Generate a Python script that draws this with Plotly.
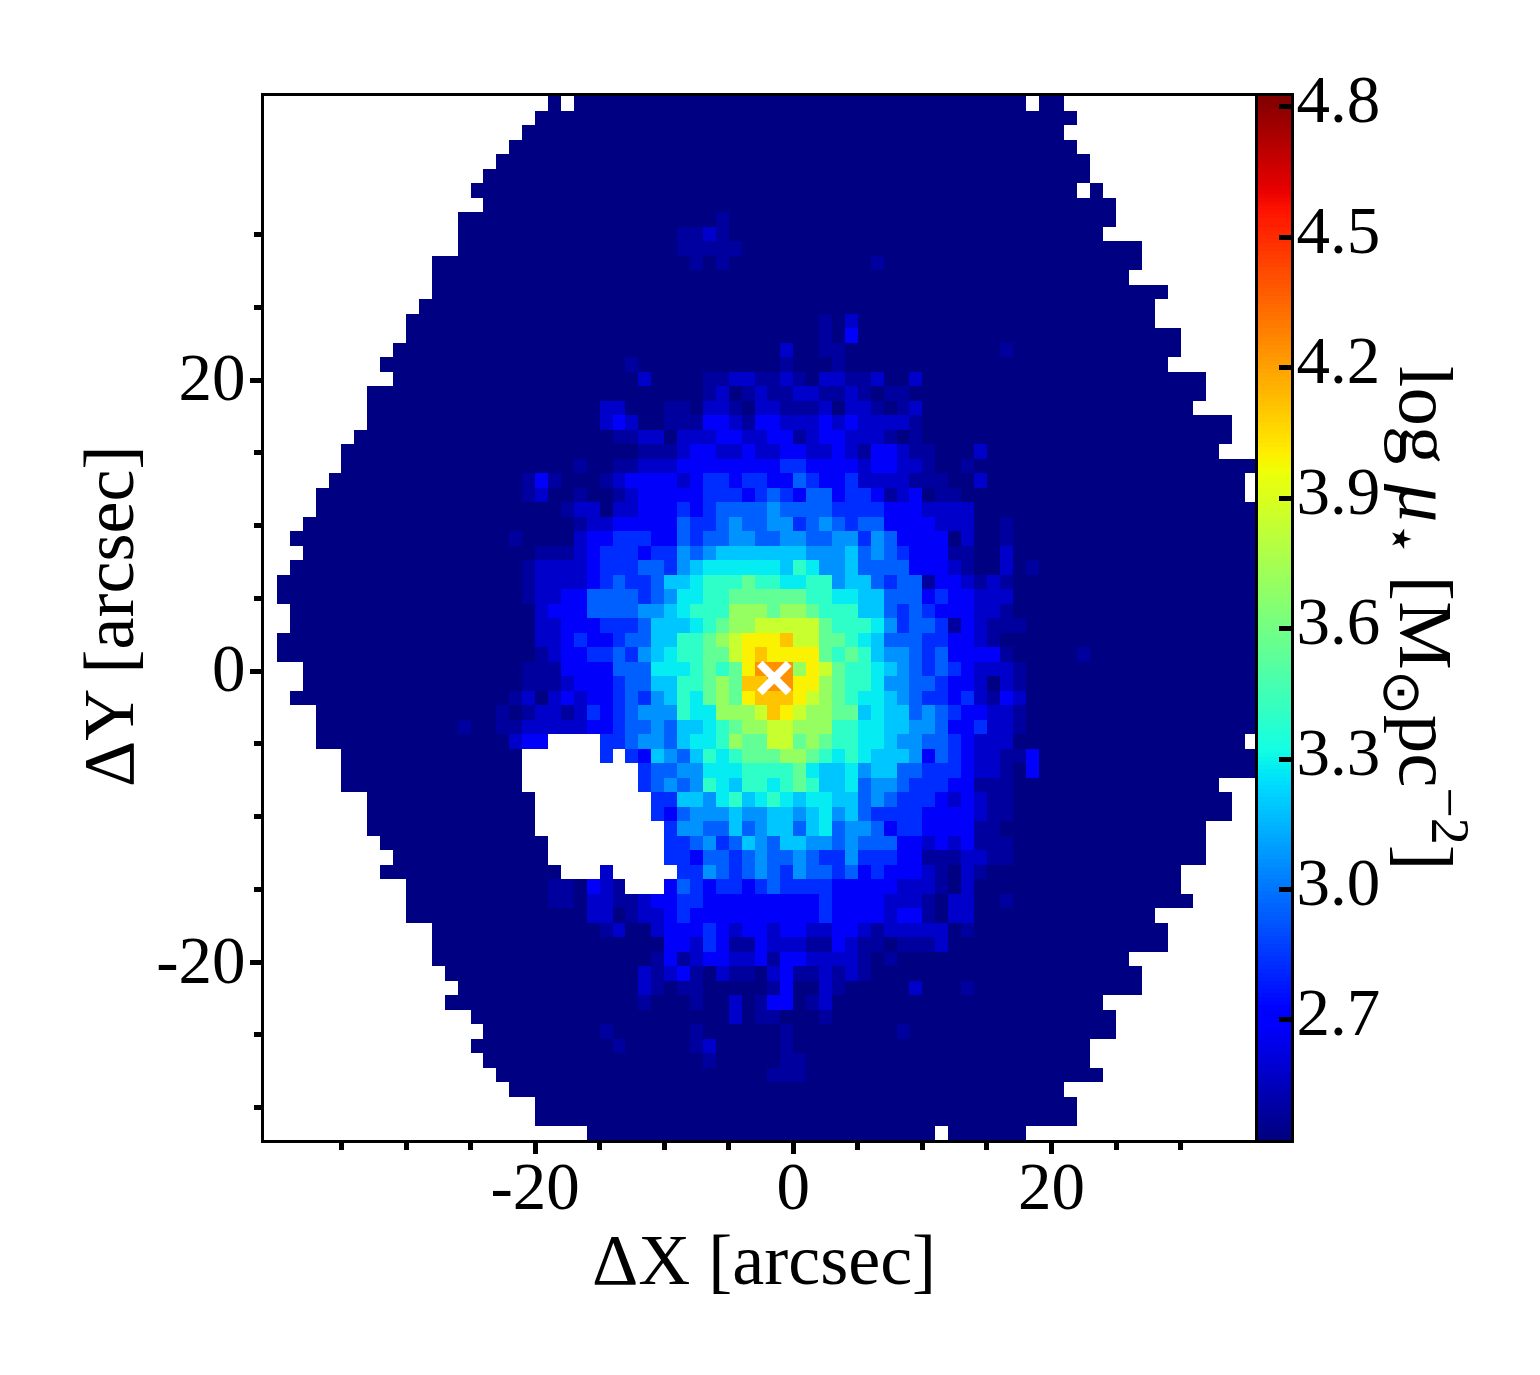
import plotly.graph_objects as go

# value read for each colour code of the picture
LEVELS = dict(zip("0123456789abcdef",
    [2.43, 2.49, 2.58, 2.68, 2.83, 2.95, 3.07, 3.19, 3.28, 3.40, 3.55, 3.70, 3.85, 3.995, 4.11, 4.24]))

# first column with data, and column after the last, for each of the 72 rows
ROW_START = [22,21,20,19,18,17,16,17,15,15,15,13,13,13,12,11,11,10,9,10,8,8,8,7,6,6,5,4,4,3,2,3,2,1,1,2,2,1,1,3,3,2,4,4,4,6,6,6,8,8,8,9,10,9,11,11,11,13,13,13,14,15,14,16,17,16,17,19,19,21,21,25]
ROW_END = [62,63,62,63,64,64,65,66,66,65,68,68,67,70,69,69,71,71,70,73,73,72,75,75,74,77,76,76,
           77,77,77,77,77,77,77,77,77,77,77,77,77,77,77,77,76,77,77,74,75,75,73,73,73,71,71,72,69,70,70,67,68,68,65,66,66,64,64,65,62,63,63,59]
GAP_CELLS = [(0,23),(0,59),(6,63),(26,76),(27,76),(44,76),(71,52)]
FAINT_CELLS = [(43,15),(38,63)]

# rows 8..67, columns 18..59 in groups of six; "." is no data
CORE_FIRST_ROW = 8
CORE_FIRST_COL = 18
CORE = [
"000000 000000 000001 000000 000000 000000 000000",
"000000 000000 001121 000000 000000 000000 000000",
"000000 000000 001111 100000 000000 000000 000000",
"000000 000000 000101 000000 000001 000000 000000",
"000000 000000 000000 000000 000000 000000 000000",
"000000 000000 000000 000000 000000 000000 000000",
"000000 000000 000000 000000 000000 000000 000000",
"000000 000000 000000 000000 010200 000000 000000",
"000000 000000 000000 000000 010300 000000 000000",
"000000 000000 000000 000020 011000 000000 000100",
"000000 000010 000000 000010 001000 000000 000000",
"000000 000002 000011 221121 022112 002000 000000",
"000000 000000 000012 012112 211210 110000 000000",
"000000 002200 011022 102211 120221 012000 000000",
"000000 002320 011133 213322 232322 221000 000000",
"000000 000112 202223 322331 233222 101000 000000",
"000000 000001 112332 232233 223213 321100 020000",
"000000 100112 223333 333344 333323 322100 100000",
"001310 001233 332344 344335 433422 221110 020000",
"001200 100123 333344 434543 553443 123011 000000",
"000001 220223 334345 555655 554444 333222 200000",
"000000 122333 335445 655664 565455 333322 200100",
"010000 233444 335455 665566 556646 533330 200100",
"000111 234443 446567 777777 666756 543331 100200",
"001222 234445 546788 888879 866755 553332 100201",
"001222 234544 577899 9a9988 996775 455133 212100",
"001223 355554 568899 aaaaaa 998877 555343 322200",
"000233 355556 678999 bbbabb a99977 545433 322100",
"000223 334445 77789a bbcccc ca9998 645541 321110",
"000223 433455 7799ab cdddec caa987 555443 321000",
"000123 344546 7899aa cdeddd da9a97 665453 333100",
"001113 333555 8889a9 adfffb dca998 765454 322210",
"001112 333455 7799ab aeeffd dba998 665543 320210",
"012023 233454 6798ab adeeed cba988 765443 421320",
"101221 243456 66988b bbcedc bbaa78 775654 332210",
"112222 233455 657789 abbccb bb9988 776653 342210",
"0233.. ..4456 657889 baacca ba9988 766554 322200",
"00.... ..4.43 765798 9aaabb a98987 776354 322113",
"00.... .....4 556688 89999a 877867 755444 322103",
"00.... .....4 565698 79989a 977856 654443 311100",
"000... ...... 447768 978987 887756 544432 321100",
"000... ...... 435666 766776 786754 444333 321100",
"000... ...... .46655 756775 785665 344333 311000",
"0000.. ...... .44564 576577 665655 533232 311100",
"0000.. ...... .44355 456556 544644 433111 221100",
"00000. ..2... ..4465 456546 554534 333210 210000",
"000011 0321.. .35434 434544 443333 322210 200000",
"000011 022112 334433 333333 343333 222102 200100",
"000000 022012 234333 333333 343333 233102 200000",
"000000 001200 233343 233233 223321 222220 100000",
"000000 000000 033243 113222 113211 011120 000000",
"000000 000000 131233 223133 222210 100000 000000",
"000000 000002 123102 110231 121210 000000 000000",
"000000 000002 101100 000130 021000 002000 100000",
"000000 000001 000100 201330 120000 000000 000000",
"000000 000000 000000 201100 010000 000000 000000",
"000000 001000 000100 000010 000000 010000 000000",
"000000 000100 000120 000010 000000 000000 000000",
"000000 000000 000010 000011 000000 000000 000000",
"000000 000000 000000 000111 000000 000000 000000",
]

N_COLS = 77
N_ROWS = 72
X_LEFT, X_RIGHT = -41.0, 36.0
Y_TOP, Y_BOTTOM = 39.52, -32.23

X_TICKS = [-20, 0, 20]
Y_TICKS = [-20, 0, 20]
X_MINOR = [-35, -30, -25, -20, -15, -10, -5, 0, 5, 10, 15, 20, 25, 30]
Y_MINOR = [-30, -25, -20, -15, -10, -5, 0, 5, 10, 15, 20, 25, 30]
TICK_TEXT = ["-20", "0", "20"]
CB_TICKS = [2.7, 3.0, 3.3, 3.6, 3.9, 4.2, 4.5, 4.8]
Z_MIN, Z_MAX = 2.424, 4.825
CB_STEPS = 256
CENTRE_X = [-1.47]
CENTRE_Y = [-0.48]

JET = [
    [0.0, "rgb(0,0,127)"], [0.11, "rgb(0,0,255)"], [0.125, "rgb(0,0,255)"],
    [0.34, "rgb(0,219,255)"], [0.35, "rgb(0,229,247)"], [0.375, "rgb(20,255,226)"],
    [0.64, "rgb(238,255,8)"], [0.65, "rgb(247,246,0)"], [0.66, "rgb(255,236,0)"],
    [0.89, "rgb(255,19,0)"], [0.91, "rgb(232,0,0)"], [1.0, "rgb(127,0,0)"],
]

z = []
for r in range(N_ROWS):
    row = [None] * N_COLS
    for c in range(ROW_START[r], ROW_END[r]):
        row[c] = LEVELS["0"]
    z.append(row)
for i, text in enumerate(CORE):
    cells = text.replace(" ", "")
    assert len(cells) == 42, (i, len(cells))
    for j, ch in enumerate(cells):
        r, c = CORE_FIRST_ROW + i, CORE_FIRST_COL + j
        z[r][c] = None if ch == "." else LEVELS[ch]
for r, c in GAP_CELLS:
    z[r][c] = None
for r, c in FAINT_CELLS:
    z[r][c] = LEVELS["1"]

dy = (Y_TOP - Y_BOTTOM) / N_ROWS

FONT = "Liberation Serif"
TICK_FONT = dict(family=FONT, size=67, color="black")
TITLE_FONT = dict(family=FONT, size=72, color="black")

# page geometry
FIG_W, FIG_H = 1540, 1375
M_L, M_R, M_T, M_B = 256, 40, 88, 243
PLOT_W = FIG_W - M_L - M_R
MAIN_W, BAR_W = 994, 33

fig = go.Figure()
fig.add_trace(go.Heatmap(
    z=z, x0=X_LEFT + 0.5, dx=1, y0=Y_TOP - dy / 2, dy=-dy,
    colorscale=JET, zmin=Z_MIN, zmax=Z_MAX, hoverongaps=False, showscale=False,
))
fig.add_trace(go.Scatter(
    x=CENTRE_X, y=CENTRE_Y, mode="markers", showlegend=False,
    marker=dict(symbol="x-thin", size=29, color="white",
                line=dict(color="white", width=8)),
))
# the colour bar, drawn on its own pair of axes
bar_levels = [Z_MIN + (Z_MAX - Z_MIN) * (k + 0.5) / CB_STEPS for k in range(CB_STEPS)]
fig.add_trace(go.Heatmap(
    z=[[v] for v in bar_levels], y=bar_levels, x=[0],
    colorscale=JET, zmin=Z_MIN, zmax=Z_MAX, showscale=False, xaxis="x2", yaxis="y2",
))

axis_common = dict(
    showgrid=False, zeroline=False, showline=True, linecolor="black", linewidth=3,
    mirror=True, ticks="outside", ticklen=11, tickwidth=5, tickcolor="black",
    tickfont=TICK_FONT, tickmode="array", ticktext=TICK_TEXT,
)
minor_common = dict(tickmode="array", ticks="outside", ticklen=7, tickwidth=5,
                    tickcolor="black", showgrid=False)
fig.update_layout(
    width=FIG_W, height=FIG_H, autosize=False,
    margin=dict(l=M_L, r=M_R, t=M_T, b=M_B),
    paper_bgcolor="white", plot_bgcolor="white",
    showlegend=False,
    xaxis=dict(
        axis_common, domain=[0, MAIN_W / PLOT_W], range=[X_LEFT, X_RIGHT], tickvals=X_TICKS,
        minor=dict(minor_common, tickvals=X_MINOR), ticklabelstandoff=-25,
    ),
    yaxis=dict(
        axis_common, range=[Y_BOTTOM, Y_TOP], tickvals=Y_TICKS,
        minor=dict(minor_common, tickvals=Y_MINOR), ticklabelstandoff=-9, ticklabelshift=-3,
    ),
    xaxis2=dict(
        domain=[MAIN_W / PLOT_W, (MAIN_W + BAR_W) / PLOT_W], anchor="y2", range=[-0.5, 0.5],
        showgrid=False, zeroline=False, showticklabels=False, ticks="",
        showline=True, linecolor="black", linewidth=3, mirror=True,
    ),
    yaxis2=dict(
        anchor="x2", side="right", range=[Z_MIN, Z_MAX],
        showgrid=False, zeroline=False, showline=True, linecolor="black", linewidth=3, mirror=True,
        tickmode="array", tickvals=CB_TICKS, ticktext=[f"{v:.1f}" for v in CB_TICKS],
        ticks="inside", ticklen=12, tickwidth=5, tickcolor="black",
        tickfont=TICK_FONT, ticklabelshift=-8, ticklabelstandoff=-11,
    ),
    annotations=[
        dict(text="ΔX [arcsec]", xref="x domain", yref="y domain", x=0.5, y=0,
             xanchor="center", yanchor="middle", xshift=3, yshift=-120,
             showarrow=False, font=TITLE_FONT),
        dict(text="ΔY [arcsec]", xref="x domain", yref="y domain", x=0, y=0.5,
             xanchor="center", yanchor="middle", xshift=-155, yshift=1, textangle=-90,
             showarrow=False, font=TITLE_FONT),
        dict(text="log <i>μ</i><sub>⋆</sub> [M<sub>⊙</sub>pc<sup>−2</sup>]",
             xref="x domain", yref="y domain", x=1, y=0.5,
             xanchor="center", yanchor="middle", xshift=168, yshift=0, textangle=90,
             showarrow=False, font=dict(family=FONT, size=77, color="black")),
    ],
)

fig.write_html("out.html")
